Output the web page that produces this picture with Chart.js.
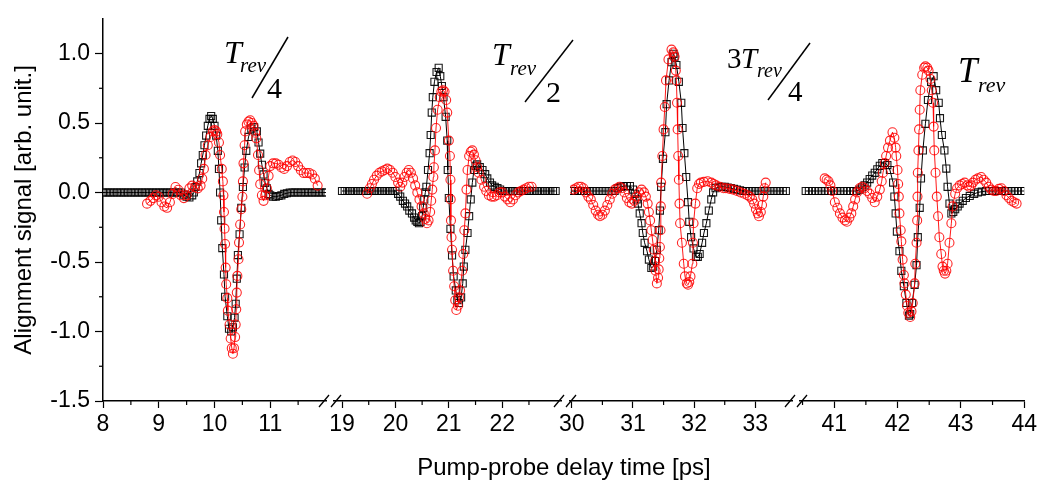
<!DOCTYPE html>
<html>
<head>
<meta charset="utf-8">
<script src="https://cdn.jsdelivr.net/npm/chart.js@4.4.1/dist/chart.umd.min.js"></script>
<style>
  html, body { margin: 0; padding: 0; background: #fff; }
  #wrap { position: relative; width: 1040px; height: 483px; }
  #wrap canvas { position: absolute; left: 0; top: 0; }
  #xtitle { position: absolute; left: 103px; width: 922px; top: 453px; text-align: center;
    font: 24px "Liberation Sans", Arial, sans-serif; color: #000; }
</style>
</head>
<body>
<div id="wrap">
  <canvas id="c1" width="1040" height="483"></canvas>
  <canvas id="c2" width="1040" height="483"></canvas>
  <canvas id="c3" width="1040" height="483"></canvas>
  <canvas id="c4" width="1040" height="483"></canvas>
  <div id="xtitle">Pump-probe delay time [ps]</div>
</div>
<script>
// axis ranges of the four pieces of the broken time axis (ps)
var segMin = [8, 18.85, 29.97, 40.46];
var segMax = [12, 23.1, 33.6, 44];
var yMin = -1.5, yMax = 1.25;

// ---- Tr/4 ----
var blackT1 = [8.00,8.05,8.10,8.15,8.20,8.25,8.30,8.35,8.40,8.45,8.50,8.55,8.60,8.65,8.70,8.75,8.80,8.85,8.90,8.95,9.00,9.05,9.10,9.15,9.20,9.25,9.30,9.35,9.40,
  9.45,9.50,9.55,9.60,
  9.63,9.66,9.69,9.73,9.76,9.79,9.82,9.85,9.88,9.91,9.94,9.97,
  10.00,10.03,10.06,10.08,10.10,10.12,10.14,10.17,10.19,10.23,10.26,10.30,10.33,10.36,10.38,10.40,10.42,10.45,10.48,10.51,10.54,10.57,10.61,10.66,10.71,10.76,10.79,10.82,10.85,10.88,10.91,10.94,10.97,
  11.00,11.05,11.10,11.15,11.20,11.25,11.30,
  11.35,11.40,11.45,11.50,11.55,11.60,11.65,11.70,11.75,11.80,11.85,11.90,11.95,12.00];
var blackY1 = [0,0,0,0,0,0,0,0,0,0,0,0,0,0,0,0,0,0,0,0,0,0,0,0,0,0,0,0,0,
  -0.015,-0.03,-0.035,-0.02,
  0.0,0.04,0.08,0.14,0.21,0.27,0.34,0.41,0.48,0.53,0.55,0.53,
  0.48,0.41,0.30,0.17,0.0,-0.20,-0.40,-0.59,-0.75,-0.89,-0.98,-1.0,-0.97,-0.9,-0.8,-0.62,-0.45,-0.30,-0.11,0.04,0.18,0.30,0.40,0.46,0.47,0.44,0.36,0.28,0.2,0.13,0.07,0.03,-0.01,
  -0.02,-0.03,-0.03,-0.025,-0.02,-0.01,-0.005,
  0,0,0,0,0,0,0,0,0,0,0,0,0,0];
var redT1 = [8.79,8.85,8.90,8.95,9.00,9.05,9.10,9.15,9.20,9.25,9.30,9.35,9.40,9.45,9.50,9.55,9.60,9.65,9.70,9.75,
  9.78,9.81,9.84,9.88,9.93,9.97,10.00,10.03,10.05,10.08,10.10,10.13,10.15,
  10.16,10.17,10.18,10.19,10.20,10.21,10.23,10.24,10.27,10.29,10.31,10.33,
  10.35,10.37,10.38,10.39,10.40,10.41,10.43,10.44,10.46,10.48,10.50,
  10.51,10.52,10.54,10.55,10.58,10.61,10.64,10.67,10.70,10.73,10.75,10.78,10.80,10.82,10.85,10.88,
  10.91,10.94,10.97,11.00,11.05,11.10,11.15,11.20,11.25,11.30,11.35,11.40,11.45,11.50,11.55,11.60,11.65,11.70,11.75,11.80,11.85];
var redY1 = [-0.08,-0.06,-0.04,-0.02,-0.03,-0.07,-0.10,-0.11,-0.07,-0.01,0.04,0.02,-0.02,-0.04,-0.02,0.03,0.05,0.04,0.03,0.05,
  0.10,0.17,0.27,0.34,0.40,0.44,0.45,0.44,0.42,0.36,0.27,0.17,0.08,
  -0.02,-0.14,-0.26,-0.37,-0.54,-0.66,-0.76,-0.85,-0.95,-1.05,-1.12,-1.16,
  -1.12,-1.04,-0.95,-0.84,-0.72,-0.60,-0.48,-0.36,-0.23,-0.12,-0.03,
  0.08,0.21,0.34,0.44,0.49,0.51,0.52,0.50,0.48,0.43,0.39,0.27,0.16,0.06,-0.02,-0.06,
  -0.02,0.03,0.12,0.19,0.21,0.21,0.20,0.18,0.17,0.19,0.22,0.23,0.22,0.19,0.16,0.14,0.14,0.14,0.13,0.10,0.05];

// ---- Tr/2 ----
var blackT2 = [19.00,19.05,19.10,19.15,19.20,19.25,19.30,19.35,19.40,19.45,19.50,19.55,19.60,19.65,19.70,19.75,19.80,19.85,19.90,19.95,20.00,
  20.05,20.09,20.14,20.18,20.22,20.26,20.31,20.35,20.38,20.41,20.44,20.47,20.50,20.52,20.54,20.56,20.58,
  20.61,20.64,20.66,20.68,20.70,20.73,20.77,20.81,20.84,20.87,20.90,20.94,20.97,20.98,
  21.00,21.03,21.06,21.09,21.13,21.16,21.19,21.23,21.26,21.28,21.31,21.35,21.38,21.41,
  21.44,21.47,21.50,21.53,21.58,21.63,21.68,21.72,21.77,21.81,21.86,21.91,21.96,
  22.00,22.05,22.10,22.15,22.20,22.25,22.30,22.35,22.40,22.45,22.50,22.55,22.60,22.65,22.70,22.75,22.80,22.85,22.90,22.95,23.00];
var blackY2 = [0,0,0,0,0,0,0,0,0,0,0,0,0,0,0,0,0,0,0,0,0,
  -0.02,-0.04,-0.07,-0.09,-0.11,-0.14,-0.16,-0.19,-0.21,-0.22,-0.23,-0.22,-0.18,-0.12,-0.06,-0.01,0.03,
  0.15,0.27,0.40,0.56,0.67,0.78,0.85,0.88,0.82,0.75,0.67,0.53,0.36,0.15,
  -0.05,-0.27,-0.46,-0.61,-0.71,-0.78,-0.80,-0.76,-0.66,-0.54,-0.42,-0.30,-0.18,-0.06,
  0.06,0.15,0.18,0.19,0.17,0.15,0.12,0.09,0.06,0.04,0.03,0.02,0.01,
  0,0,0,0,0,0,0,0,0,0,0,0,0,0,0,0,0,0,0,0,0];
var redT2 = [19.47,19.52,19.56,19.60,19.65,19.70,19.75,19.80,19.85,19.90,19.95,20.00,20.05,20.09,
  20.13,20.17,20.21,20.25,20.29,20.33,20.37,20.41,20.45,20.49,20.53,20.56,20.59,20.62,20.65,20.67,
  20.69,20.71,20.72,20.74,20.76,20.79,20.83,20.86,20.89,20.92,20.95,20.97,21.00,21.02,21.03,
  21.035,21.04,21.05,21.06,21.08,21.10,21.12,21.14,21.17,21.19,21.21,21.25,21.27,21.29,21.31,
  21.33,21.35,21.38,21.41,21.44,21.47,21.50,21.53,21.56,21.61,21.66,21.70,21.75,21.80,21.85,21.90,21.95,
  22.00,22.05,22.10,22.15,22.20,22.25,22.30,22.35,22.40,22.45,22.50,22.55];
var redY2 = [-0.02,0.02,0.05,0.08,0.11,0.13,0.14,0.15,0.16,0.15,0.13,0.10,0.06,0.03,
  0.06,0.10,0.13,0.15,0.13,0.09,0.04,-0.01,-0.06,-0.11,-0.16,-0.20,-0.23,-0.21,-0.15,-0.07,
  0.01,0.10,0.17,0.29,0.45,0.58,0.67,0.71,0.72,0.71,0.65,0.56,0.36,0.25,0.08,
  -0.06,-0.21,-0.33,-0.42,-0.57,-0.68,-0.78,-0.85,-0.82,-0.76,-0.71,-0.57,-0.45,-0.28,-0.16,
  0.01,0.15,0.25,0.28,0.29,0.26,0.22,0.17,0.13,0.08,0.03,0.0,-0.03,-0.04,-0.04,-0.03,-0.01,
  -0.01,-0.04,-0.06,-0.08,-0.06,-0.03,-0.01,0.0,0.01,0.02,0.03,0.03];

// ---- 3Tr/4 ----
var blackT3 = [30.00,30.05,30.10,30.15,30.20,30.25,30.30,30.35,30.40,30.45,30.50,30.55,30.60,30.65,30.70,
  30.75,30.80,30.85,30.90,30.95,31.00,31.03,31.06,31.08,31.11,31.14,31.16,31.19,31.23,31.26,31.30,
  31.33,31.36,31.39,31.42,31.44,31.46,31.49,31.53,31.55,31.59,31.63,31.66,
  31.68,31.71,31.75,31.79,31.81,31.84,31.87,31.90,31.92,31.95,31.99,32.03,
  32.06,32.09,32.13,32.16,32.20,32.24,32.28,32.31,32.35,32.40,32.45,32.50,32.55,32.60,32.65,32.70,32.75,
  32.80,32.85,32.90,32.95,33.00,33.05,33.10,33.15,33.20,33.25,33.30,33.35,33.40,33.45,33.50];
var blackY3 = [0,0,0,0,0,0,0,0,0,0,0,0,0,0,0,
  0.02,0.03,0.035,0.035,0.035,0.01,-0.02,-0.06,-0.09,-0.16,-0.23,-0.30,-0.37,-0.43,-0.49,-0.55,
  -0.54,-0.50,-0.42,-0.28,-0.14,0.03,0.23,0.42,0.62,0.79,0.92,0.98,
  0.96,0.90,0.78,0.63,0.45,0.27,0.10,-0.08,-0.22,-0.33,-0.41,-0.47,
  -0.47,-0.45,-0.37,-0.30,-0.23,-0.14,-0.06,-0.01,0.02,0.03,0.03,0.03,0.025,0.02,0.015,0.01,0.005,
  0,0,0,0,0,0,0,0,0,0,0,0,0,0,0];
var redT3 = [30.03,30.07,30.11,30.15,30.19,30.23,30.27,30.31,30.35,30.39,30.43,30.46,30.50,30.54,30.58,30.62,30.66,30.70,
  30.74,30.78,30.82,30.86,30.90,30.94,30.98,31.02,31.06,31.10,31.14,31.18,31.21,31.24,31.26,31.28,31.30,31.32,31.34,31.36,31.37,31.39,
  31.41,31.42,31.43,31.44,31.45,31.455,31.46,31.48,31.50,31.52,31.54,31.58,31.63,
  31.66,31.68,31.70,31.71,31.72,31.73,31.74,31.75,31.76,31.77,31.80,31.83,31.85,31.88,31.90,
  31.92,31.94,31.97,31.98,31.99,32.02,32.05,32.08,32.11,32.16,32.22,32.28,32.32,32.36,32.42,32.48,32.52,32.58,32.64,32.70,
  32.76,32.82,32.87,32.91,32.95,32.98,33.01,33.04,33.06,33.09,33.11,33.13,33.15,33.17];
var redY3 = [0.01,0.02,0.03,0.03,0.02,-0.01,-0.04,-0.06,-0.10,-0.14,-0.17,-0.18,-0.17,-0.14,-0.10,-0.06,-0.02,0.01,
  0.02,0.03,0.02,-0.01,-0.05,-0.08,-0.09,-0.07,-0.04,-0.01,0.01,-0.01,-0.04,-0.09,-0.15,-0.21,-0.28,-0.35,-0.42,-0.50,-0.57,-0.66,
  -0.62,-0.56,-0.48,-0.40,-0.28,-0.11,0.06,0.25,0.44,0.60,0.79,0.94,1.01,
  0.99,0.96,0.86,0.79,0.63,0.44,0.25,0.08,-0.09,-0.23,-0.37,-0.52,-0.61,-0.66,-0.67,
  -0.65,-0.61,-0.52,-0.37,-0.23,-0.09,0.02,0.05,0.06,0.065,0.07,0.06,0.05,0.04,0.03,0.02,0.02,0.015,0.01,0.0,
  -0.01,-0.02,-0.03,-0.04,-0.06,-0.09,-0.13,-0.16,-0.18,-0.15,-0.10,-0.04,0.02,0.06];

// ---- Tr ----
var blackT4 = [40.55,40.60,40.65,40.70,40.75,40.80,40.85,40.90,40.95,41.00,41.05,41.10,41.15,41.20,41.25,41.30,41.35,
  41.40,41.44,41.48,41.52,41.56,41.60,41.64,41.68,41.72,41.76,41.80,41.84,41.88,41.93,41.95,41.97,41.99,
  42.03,42.06,42.10,42.14,42.18,42.20,42.23,42.27,42.30,42.32,42.35,42.37,42.40,42.44,42.48,42.53,42.57,
  42.61,42.65,42.67,42.70,42.74,42.77,42.79,42.82,42.85,42.88,42.91,42.95,42.98,43.03,43.08,43.14,43.21,43.27,43.33,
  43.40,43.45,43.50,43.55,43.60,43.65,43.70,43.75,43.80,43.85,43.90,43.95,44.00];
var blackY4 = [0,0,0,0,0,0,0,0,0,0,0,0,0,0,0,0,0,
  0.01,0.025,0.04,0.06,0.085,0.11,0.13,0.155,0.18,0.20,0.20,0.185,0.15,0.06,-0.04,-0.16,-0.29,
  -0.43,-0.57,-0.68,-0.80,-0.89,-0.88,-0.80,-0.67,-0.53,-0.33,-0.12,0.09,0.29,0.48,0.65,0.78,0.82,
  0.72,0.63,0.52,0.40,0.29,0.16,0.03,-0.09,-0.16,-0.15,-0.13,-0.11,-0.09,-0.07,-0.05,-0.035,-0.02,-0.01,-0.005,
  0,0,0,0,0,0,0,0,0,0,0,0,0];
var redT4 = [40.85,40.88,40.91,40.94,40.97,41.01,41.05,41.09,41.13,41.17,41.20,41.24,41.27,41.30,41.33,41.36,
  41.40,41.44,41.48,41.52,41.56,41.60,41.64,41.68,41.72,41.75,41.77,41.80,41.82,41.85,41.88,41.92,
  41.95,41.97,41.98,42.00,42.01,42.02,42.03,42.05,42.06,42.08,42.10,42.11,42.13,42.15,42.17,42.20,
  42.22,42.24,42.27,42.28,42.30,42.31,42.315,42.32,42.33,42.34,42.35,42.36,42.39,42.42,42.44,
  42.47,42.49,42.52,42.54,42.56,42.57,42.58,42.60,42.62,42.64,42.66,42.69,42.71,42.73,42.75,
  42.77,42.79,42.82,42.85,42.87,42.91,42.94,42.98,43.02,43.06,43.10,43.13,43.16,43.19,43.23,43.27,43.32,
  43.36,43.40,43.44,43.48,43.52,43.56,43.60,43.64,43.68,43.72,43.76,43.80,43.84,43.88];
var redY4 = [0.09,0.08,0.07,0.04,0.0,-0.08,-0.12,-0.16,-0.19,-0.21,-0.22,-0.19,-0.16,-0.11,-0.06,-0.01,
  0.02,0.03,0.02,0.0,-0.02,-0.05,-0.08,-0.04,0.01,0.07,0.13,0.20,0.25,0.31,0.36,0.42,
  0.38,0.31,0.25,0.15,0.05,-0.04,-0.16,-0.28,-0.36,-0.49,-0.60,-0.66,-0.74,-0.82,-0.87,-0.90,
  -0.86,-0.80,-0.66,-0.52,-0.37,-0.21,-0.04,0.13,0.29,0.44,0.58,0.72,0.83,0.88,0.89,
  0.88,0.86,0.80,0.72,0.63,0.46,0.29,0.13,-0.04,-0.18,-0.33,-0.45,-0.54,-0.57,-0.59,
  -0.57,-0.52,-0.37,-0.23,-0.11,-0.02,0.02,0.04,0.05,0.06,0.04,0.03,0.04,0.06,0.08,0.09,0.10,
  0.08,0.06,0.03,0.01,0.0,0.0,0.015,0.02,0.0,-0.03,-0.05,-0.07,-0.08,-0.09];

var blackT = [blackT1, blackT2, blackT3, blackT4];
var blackY = [blackY1, blackY2, blackY3, blackY4];
var redT = [redT1, redT2, redT3, redT4];
var redY = [redY1, redY2, redY3, redY4];

// where each piece of the axis sits on the page
var boxLeft = [103, 334, 570, 800];
var boxRight = [326, 561, 792, 1025];
var plotTop = 16, plotBottom = 401;

var FONT = '"Liberation Sans", Arial, sans-serif';

function isWhole(v) { return Math.abs(v - Math.round(v)) < 1e-6; }
function isHalf(v) { return Math.abs(v * 2 - Math.round(v * 2)) < 1e-6; }

function line(ctx, x1, y1, x2, y2) {
    ctx.beginPath();
    ctx.moveTo(x1, y1);
    ctx.lineTo(x2, y2);
    ctx.stroke();
}

// short minor ticks (Chart.js has one tick length per scale)
var minorTicks = {
    id: 'minorTicks',
    afterDraw: function(chart) {
        var ctx = chart.ctx;
        ctx.save();
        ctx.strokeStyle = '#000';
        ctx.lineWidth = 1.2;
        var xs = chart.scales.x;
        var cut = chart.options.cutEnd;
        xs.ticks.forEach(function(t) {
            if (!isWhole(t.value) && !(cut && t.value > xs.max - 0.15)) {
                var p = xs.getPixelForValue(t.value);
                line(ctx, p, xs.top, p, xs.top + 4);
            }
        });
        var ys = chart.scales.y;
        if (ys.options.display) {
            ys.ticks.forEach(function(t) {
                if (!isHalf(t.value) && t.value < 1.2) {
                    var p = ys.getPixelForValue(t.value);
                    line(ctx, ys.right - 4, p, ys.right, p);
                }
            });
        }
        ctx.restore();
    }
};

// axis break marks and the revival labels
var decorations = {
    id: 'decorations',
    afterDraw: function(chart) {
        var ctx = chart.ctx;
        ctx.save();
        ctx.strokeStyle = '#000';
        ctx.lineWidth = 1.3;
        [330, 565, 796].forEach(function(c) {
            [-6, 6].forEach(function(o) {
                line(ctx, c + o - 5, plotBottom + 6, c + o + 5, plotBottom - 6);
            });
        });

        ctx.fillStyle = '#000';
        ctx.textBaseline = 'alphabetic';
        var serif = '"Liberation Serif", "Times New Roman", serif';
        function txt(s, x, y, size, italic) {
            ctx.font = (italic ? 'italic ' : '') + size + 'px ' + serif;
            ctx.fillText(s, x, y);
        }
        ctx.lineWidth = 1.5;
        // Trev / 4
        txt('T', 224, 63, 32, true);
        txt('rev', 240, 72, 21, true);
        line(ctx, 252, 98, 288, 37);
        txt('4', 267, 98, 30, false);
        // Trev / 2
        txt('T', 492, 65, 32, true);
        txt('rev', 510, 75, 21, true);
        line(ctx, 525, 102, 573, 40);
        txt('2', 546, 102, 30, false);
        // 3Trev / 4
        txt('3', 727, 68, 29, false);
        txt('T', 741, 68, 29, true);
        txt('rev', 757, 77, 20, true);
        line(ctx, 768, 100, 810, 43);
        txt('4', 788, 101, 29, false);
        // Trev
        txt('T', 958, 82, 35, true);
        txt('rev', 978, 92, 22, true);
        ctx.restore();
    }
};

function makeChart(i) {
    var first = i === 0;
    var last = i === 3;
    var red = redT[i].map(function(t, k) { return { x: t, y: redY[i][k] }; });
    var black = blackT[i].map(function(t, k) { return { x: t, y: blackY[i][k] }; });
    var showTick = function(v) { return last || v < segMax[i] - 0.15; };
    return new Chart(document.getElementById('c' + (i + 1)), {
        type: 'line',
        data: {
            datasets: [{
                label: 'circles',
                data: red,
                borderColor: 'rgba(255,0,0,0.9)',
                borderWidth: 1,
                pointStyle: 'circle',
                pointRadius: 4.5,
                pointBorderWidth: 1.1,
                pointBorderColor: 'rgba(255,0,0,0.85)',
                pointBackgroundColor: 'rgba(0,0,0,0)',
                fill: false
            }, {
                label: 'squares',
                data: black,
                borderColor: '#000',
                borderWidth: 1,
                pointStyle: 'rect',
                pointRadius: 5,
                pointBorderWidth: 1.1,
                pointBorderColor: 'rgba(0,0,0,0.9)',
                pointBackgroundColor: 'rgba(0,0,0,0)',
                fill: false
            }]
        },
        options: {
            responsive: false,
            animation: false,
            events: [],
            cutEnd: !last,
            layout: {
                padding: { left: first ? 0 : boxLeft[i], right: 1040 - boxRight[i], top: plotTop, bottom: 0 }
            },
            plugins: { legend: { display: false }, tooltip: { enabled: false } },
            scales: {
                x: {
                    type: 'linear',
                    min: segMin[i],
                    max: segMax[i],
                    afterFit: function(s) { s.height = 483 - plotBottom; },
                    border: { display: true, color: '#000', width: 1.5 },
                    grid: {
                        drawOnChartArea: false,
                        drawTicks: true,
                        tickLength: 7,
                        tickWidth: 1.2,
                        tickColor: function(c) {
                            return c.tick && isWhole(c.tick.value) && showTick(c.tick.value) ? '#000' : 'rgba(0,0,0,0)';
                        }
                    },
                    ticks: {
                        stepSize: 0.5,
                        includeBounds: false,
                        autoSkip: false,
                        maxRotation: 0,
                        maxTicksLimit: 30,
                        padding: 3,
                        color: '#000',
                        font: { family: FONT, size: 23 },
                        callback: function(v) { return isWhole(v) && showTick(v) ? String(Math.round(v)) : ''; }
                    }
                },
                y: {
                    display: first,
                    min: yMin,
                    max: yMax,
                    afterFit: first ? function(s) { s.width = boxLeft[0]; } : undefined,
                    border: { display: true, color: '#000', width: 1.5 },
                    grid: {
                        drawOnChartArea: false,
                        drawTicks: true,
                        tickLength: 8,
                        tickWidth: 1.2,
                        tickColor: function(c) {
                            return c.tick && isHalf(c.tick.value) && c.tick.value < 1.2 ? '#000' : 'rgba(0,0,0,0)';
                        }
                    },
                    title: {
                        display: true,
                        text: 'Alignment signal [arb. unit.]',
                        color: '#000',
                        font: { family: FONT, size: 24 },
                        padding: { top: 10, bottom: 0 }
                    },
                    ticks: {
                        stepSize: 0.25,
                        includeBounds: false,
                        autoSkip: false,
                        maxTicksLimit: 30,
                        padding: 5,
                        color: '#000',
                        font: { family: FONT, size: 23 },
                        callback: function(v) { return isHalf(v) && v < 1.2 ? v.toFixed(1) : ''; }
                    }
                }
            }
        },
        plugins: first ? [minorTicks, decorations] : [minorTicks]
    });
}

for (var i = 0; i < 4; i++) {
    makeChart(i);
}
</script>
</body>
</html>
